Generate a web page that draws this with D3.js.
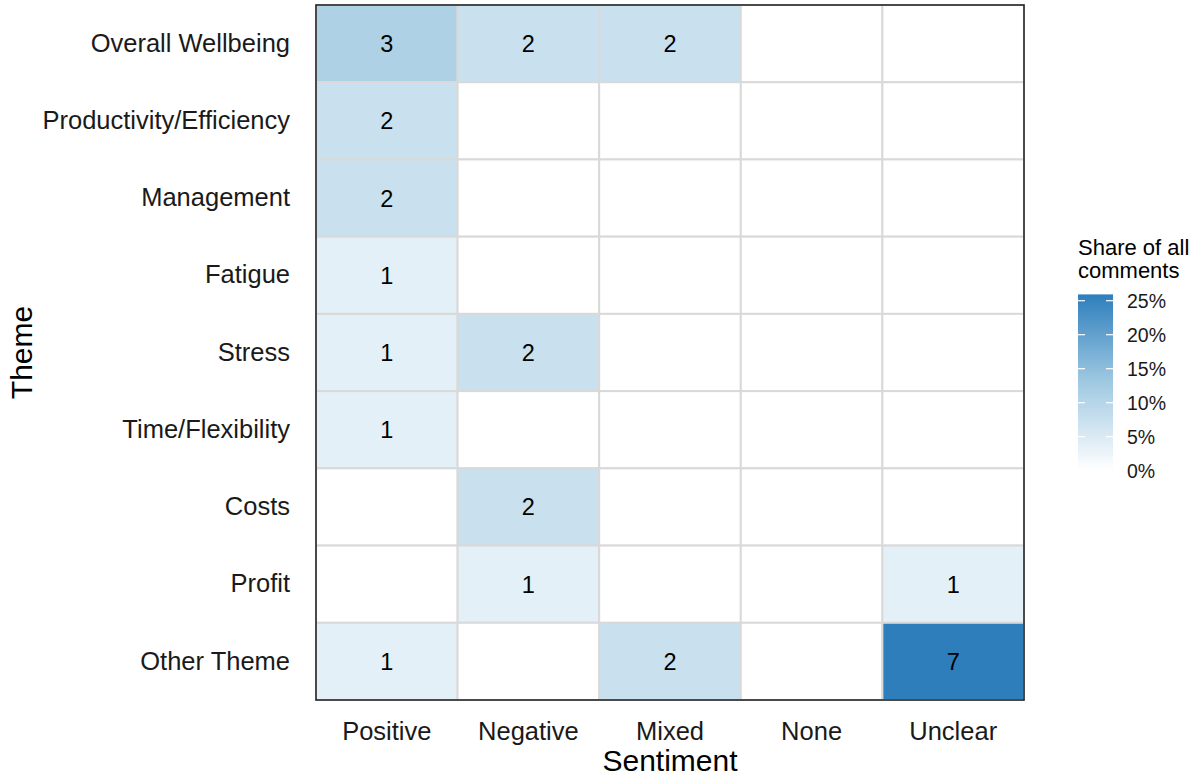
<!DOCTYPE html>
<html><head><meta charset="utf-8">
<script src="https://cdn.jsdelivr.net/npm/d3@7"></script>
<style>body{margin:0;background:#fff;} text{font-family:"Liberation Sans",Arial,sans-serif;}</style>
</head><body>
<svg id="c" width="1199" height="778"></svg>
<script>
const themes = ["Overall Wellbeing","Productivity/Efficiency","Management","Fatigue","Stress","Time/Flexibility","Costs","Profit","Other Theme"];
const sentiments = ["Positive","Negative","Mixed","None","Unclear"];
const counts = [
  [3,2,2,0,0],
  [2,0,0,0,0],
  [2,0,0,0,0],
  [1,0,0,0,0],
  [1,2,0,0,0],
  [1,0,0,0,0],
  [0,2,0,0,0],
  [0,1,0,0,1],
  [1,0,2,0,7]
];
const totalComments = 27;
const legendTicks = [0,0.05,0.10,0.15,0.20,0.25];

const svg = d3.select("#c");
const m = {l:316, r:1024, t:5, b:700};
const x = d3.scaleBand().domain(sentiments).range([m.l, m.r]);
const y = d3.scaleBand().domain(themes).range([m.t, m.b]);
const maxShare = d3.max(counts.flat()) / totalComments;
const color = d3.scaleLinear().domain([0, maxShare*0.5, maxShare])
  .range(["#ffffff","#a0c9e2","#2e7ebc"]).interpolate(d3.interpolateRgb);

const cells = [];
themes.forEach((t,i)=>sentiments.forEach((s,j)=>cells.push({t,s,n:counts[i][j]})));

svg.append("g").selectAll("rect").data(cells).join("rect")
  .attr("x", d=>x(d.s)).attr("y", d=>y(d.t))
  .attr("width", x.bandwidth()).attr("height", y.bandwidth())
  .attr("fill", d=>d.n>0 ? color(d.n/totalComments) : "#ffffff")
  .attr("stroke", "#d9d9d9").attr("stroke-width", 2);

svg.append("g").selectAll("text").data(cells.filter(d=>d.n>0)).join("text")
  .attr("x", d=>x(d.s)+x.bandwidth()/2).attr("y", d=>y(d.t)+y.bandwidth()/2)
  .attr("dy","0.36em").attr("text-anchor","middle")
  .attr("font-size", 23.5).attr("fill","#000").text(d=>d.n);

svg.append("rect").attr("x", m.l).attr("y", m.t).attr("width", m.r-m.l).attr("height", m.b-m.t)
  .attr("fill","none").attr("stroke","#1a1a1a").attr("stroke-width",1.5);

// y axis labels
const ya = svg.append("g").attr("transform",`translate(${m.l},0)`)
  .call(d3.axisLeft(y).tickSize(0).tickPadding(26));
ya.select(".domain").remove();
ya.selectAll("text").attr("font-size",25.5).attr("fill","#1a1a1a").attr("font-family","Liberation Sans, Arial, sans-serif");

// x axis labels
const xa = svg.append("g").attr("transform",`translate(0,${m.b})`)
  .call(d3.axisBottom(x).tickSize(0).tickPadding(22));
xa.select(".domain").remove();
xa.selectAll("text").attr("font-size",25.5).attr("fill","#1a1a1a").attr("font-family","Liberation Sans, Arial, sans-serif");

// titles
svg.append("text").attr("x",(m.l+m.r)/2).attr("y",771).attr("text-anchor","middle")
  .attr("font-size",30).attr("fill","#000").text("Sentiment");
svg.append("text").attr("transform",`translate(32,${(m.t+m.b)/2}) rotate(-90)`).attr("text-anchor","middle")
  .attr("font-size",30).attr("fill","#000").text("Theme");

// legend
const lg = svg.append("g");
lg.append("text").attr("x",1078).attr("y",255).attr("font-size",22).attr("fill","#000").text("Share of all");
lg.append("text").attr("x",1078).attr("y",278).attr("font-size",22).attr("fill","#000").text("comments");
const ly = d3.scaleLinear().domain([0, maxShare]).range([470.7, 470.7 - (170/0.25)*maxShare]);
const defs = svg.append("defs");
const grad = defs.append("linearGradient").attr("id","lgd").attr("x1",0).attr("y1",1).attr("x2",0).attr("y2",0);
d3.range(0,1.0001,0.05).forEach(f=>grad.append("stop").attr("offset",f).attr("stop-color",color(f*maxShare)));
const bx = 1078, bw = 35;
lg.append("rect").attr("x",bx).attr("y",ly(maxShare)).attr("width",bw).attr("height",ly(0)-ly(maxShare)).attr("fill","url(#lgd)");
lg.selectAll("line.l").data(legendTicks).join("line").attr("class","l")
  .attr("x1",bx).attr("x2",bx+7).attr("y1",d=>ly(d)).attr("y2",d=>ly(d)).attr("stroke","#fff").attr("stroke-width",1.2);
lg.selectAll("line.r").data(legendTicks).join("line").attr("class","r")
  .attr("x1",bx+bw-7).attr("x2",bx+bw).attr("y1",d=>ly(d)).attr("y2",d=>ly(d)).attr("stroke","#fff").attr("stroke-width",1.2);
lg.selectAll("text.t").data(legendTicks).join("text").attr("class","t")
  .attr("x",1127).attr("y",d=>ly(d)).attr("dy","0.36em").attr("font-size",19.5).attr("fill","#1a1a1a")
  .text(d=>d3.format(".0%")(d));
</script>
</body></html>
